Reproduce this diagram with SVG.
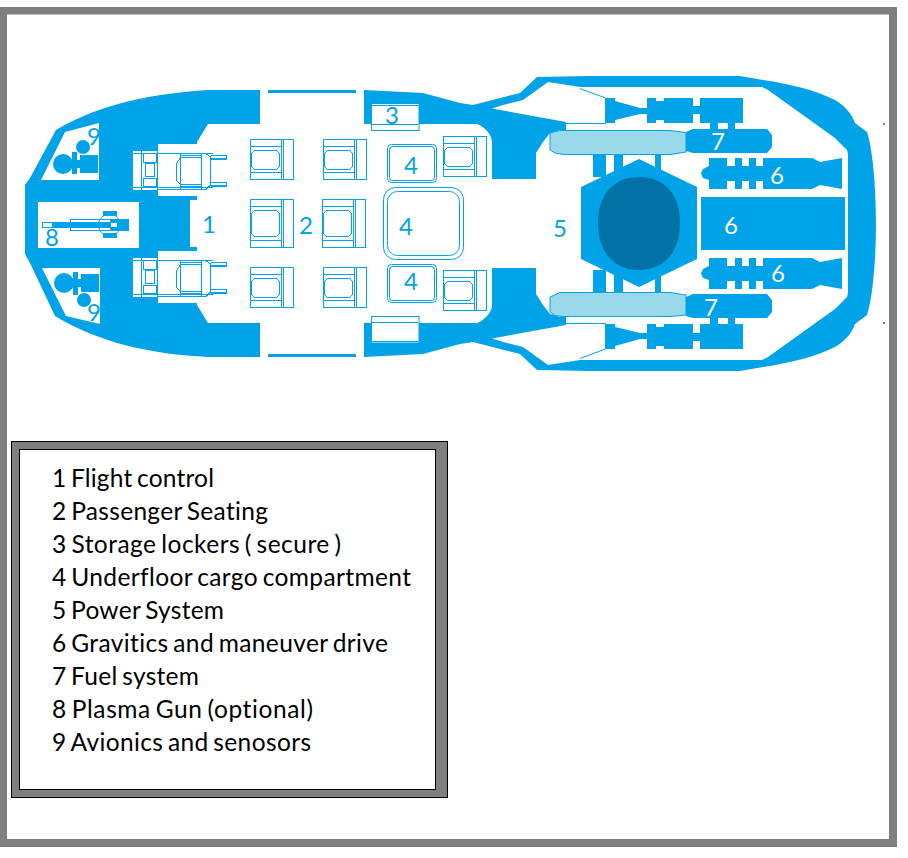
<svg xmlns="http://www.w3.org/2000/svg" xmlns:xlink="http://www.w3.org/1999/xlink" width="908" height="858" viewBox="0 0 908 858">
<style>
.b{fill:#00a2e8}
.l{fill:none;stroke:#00a2e8;stroke-width:1}
.w{fill:#fff;stroke:#00a2e8;stroke-width:1}
.t{font-family:"Lato","Liberation Sans",sans-serif;font-size:24px;fill:#00a2e8}
.tw{fill:#fff}
.k{font-family:"Lato","Liberation Sans",sans-serif;font-size:24.5px;fill:#000;font-variant-ligatures:none;word-spacing:-2px}
</style>
<defs>
<g id="seat" shape-rendering="crispEdges">
<rect class="l" x="0.5" y="0.5" width="43" height="40"/>
<path class="l" d="M31.500 .5V40.500M33.500 .5V40.500M.5 7.500H31.500M.5 33.500H31.500"/>
<path class="l" d="M4.500 11.500H26.500L29.500 14.500V27.500L26.500 30.500H4.500L1.500 27.500V14.500Z"/>
</g>
<g id="seatM" shape-rendering="crispEdges">
<rect class="l" x="0.5" y="0.5" width="43" height="48"/>
<path class="l" d="M31.500 .5V48.500M33.500 .5V48.500M.5 7.500H31.500M.5 41.500H31.500"/>
<path class="l" d="M4.500 11.500H26.500L29.500 14.500V34.500L26.500 37.500H4.500L1.500 34.500V14.500Z"/>
</g>
<g id="pilot" shape-rendering="crispEdges">
<rect x="133" y="150" width="77" height="40" fill="#fff"/>
<path class="l" d="M133 150.500H158M133 153.500H213M133 187.500H213M133 190.500H158M141.500 150V190M157.500 150V190"/>
<path class="l" d="M157.500 153.500H206L210.500 157V185L206 189.500H157.500"/>
<rect class="l" x="143.500" y="153.500" width="13" height="9"/>
<rect class="l" x="143.500" y="178.500" width="13" height="8"/>
<rect x="145.500" y="163.500" width="9" height="13" fill="none" stroke="#00a2e8" stroke-width="1.500"/>
<path class="l" d="M201.500 153.500V189.500M180.500 153.500V189.500M180.500 155.500H201M180.500 157.500H201M180.500 184.500H201M180.500 186.500H201M180.500 157.500L176.500 163.500V180.500L180.500 184.500"/>
<path class="l" d="M210.500 155.500H226.500V159.500H210.500M210.500 182.500H226.500V186.500H210.500"/>
<rect class="b" x="211" y="158" width="15" height="1.500"/>
<rect class="b" x="211" y="185" width="15" height="1.500"/>
</g>
<path id="engine" class="b" d="M606 98H615V101L640 108H647V98H656V101H664V98H693V106H700V98H743V123H735V130H728V123H718V130H710V123H700V114H693V123H664V120H656V123H647V114H640L615 120V123H606Z"/>
<path id="drive" class="b" d="M709 158H727V166H735V158H742V166H749V158H756V166H763V158H812L820 162L842 158V189L820 185L812 189H763V181H756V189H749V181H742V189H735V181H727V189H709V180L703 178L701 173.500L703 169L709 166Z"/>
<path id="aft" class="b" d="M364 90L423 93L460 103L473 105L520 93L537 77L590 76H740L763 80C790 84 815 90 835 100C845 106 852 114 855 123L867 132C873 150 876 190 876 224H848V154L847 150L835 138L768 90L762 87H580L548 82L523 100L503 105L492 108.500L566 122V130H560L550 133L543 142L536 153V179H492V142C492 135 485 127 477 124H364Z"/>
<g id="wedge"><path class="l" d="M580 88.500L605.500 98V123.500H566"/></g>
<g id="struts"><path class="b" d="M593 154H606V177H593ZM614 154H623V177H614ZM655 154H661V177H655Z"/></g>
</defs>

<path id="frame" fill="#7f7f7f" fill-rule="evenodd" d="M0 7H897V847H0ZM7 14.500V839H889V14.500Z"/>
<rect id="tick-top" x="883" y="123.500" width="2" height="1" fill="#000"/>
<rect id="tick-bottom" x="883" y="322.500" width="2" height="1" fill="#000"/>

<g id="hull-front">
<path class="b" fill-rule="evenodd" d="M260 90V124H208L197 142V144H158V150H133V190H158V196H197V200H190V247H197V251H158V257H133V297H158V303H197V305L208 323H260V357H208C150 354 100 343 55 316L30 263L25 254V185L30 178L56 130C100 104 150 94 208 90ZM65 132L99 123V180H41ZM38 202V248H139V202ZM42 268H100V324L66 316Z"/>
<path class="b" d="M268 90H356V93H268ZM268 354H356V357H268Z"/>
</g>
<g id="hull-aft">
<use xlink:href="#aft"/>
<use xlink:href="#aft" transform="matrix(1 0 0 -1 0 447)"/>
<use xlink:href="#wedge"/>
<use xlink:href="#wedge" transform="matrix(1 0 0 -1 0 447)"/>
</g>
<g id="n5-reactor">
<use xlink:href="#struts"/>
<use xlink:href="#struts" transform="matrix(1 0 0 -1 0 447)"/>
<path class="b" d="M639 159L697 187V259L639 287L581 259V187Z"/>
<path fill="#0072a8" d="M639 177C665 177 680 195 680 223C680 251 665 270 639 270C613 270 598 251 598 223C598 195 613 177 639 177Z"/>
</g>
<g id="n7-fuel">
<path fill="#99d9ea" stroke="#00a2e8" d="M560 130.500H670L686 132.500V152L670 154.500H563L555 153L550 150V133Z"/>
<path fill="#99d9ea" stroke="#00a2e8" d="M560 292.500H670L686 295V315L670 316.500H563L555 315.500L550 312V297Z"/>
<path class="b" d="M693 129H767L772 135V147L767 153H693L686 151V132ZM693 294H767L772 300V312L767 318H693L686 316V297Z"/>
</g>
<g id="n6-drive">
<use xlink:href="#engine"/>
<use xlink:href="#engine" transform="matrix(1 0 0 -1 0 447)"/>
<use xlink:href="#drive"/>
<use xlink:href="#drive" transform="translate(0 100)"/>
<rect class="b" x="701" y="197" width="144" height="53"/>
</g>
<g id="n9-avionics" class="b">
<circle cx="63" cy="164" r="10"/><circle cx="83" cy="147" r="7"/>
<path d="M63 160H98V168H63ZM80 155H98V173H80ZM72 152H77V174H72Z"/>
<circle cx="64" cy="283" r="10"/><circle cx="84" cy="300" r="7"/>
<path d="M64 279H99V287H64ZM81 274H99V292H81ZM73 272H78V295H73Z"/>
</g>
<g id="n8-gun">
<rect class="w" x="42.500" y="222.500" width="10" height="5"/>
<rect class="b" x="52" y="222" width="18" height="6"/>
<rect class="w" x="70.500" y="219.500" width="40" height="11"/>
<rect class="b" x="71" y="222" width="39" height="6"/>
<circle class="l" cx="109.500" cy="225" r="11"/>
<path class="b" d="M110 219H129V231H110ZM103 211H117V216H103ZM103 233H117V238H103Z"/>
<rect x="111" y="223" width="6" height="4" fill="#fff"/>
</g>
<g id="n1-cockpit">
<use xlink:href="#pilot"/>
<use xlink:href="#pilot" y="107"/>
</g>
<g id="n2-seating">
<use xlink:href="#seat" x="250" y="139"/>
<use xlink:href="#seatM" x="250" y="199"/>
<use xlink:href="#seat" x="250" y="267"/>
<use xlink:href="#seat" x="323" y="139"/>
<use xlink:href="#seatM" x="322" y="199"/>
<use xlink:href="#seat" x="323" y="267"/>
<use xlink:href="#seat" x="443" y="136"/>
<use xlink:href="#seat" x="443" y="270"/>
</g>
<g id="n3-lockers">
<rect class="w" x="371.500" y="103.500" width="47.500" height="27"/>
<path class="l" d="M372 105.500H418M372 124.500H418"/>
<rect class="w" x="371.500" y="316.500" width="47.500" height="26.500"/>
<path class="l" d="M372 322.500H418M372 341.500H418"/>
</g>
<g id="n4-cargo">
<rect class="l" x="387.500" y="144.500" width="49" height="38" rx="4"/>
<rect class="l" x="389.500" y="146.500" width="45" height="34" rx="3"/>
<rect class="l" x="383.500" y="187.500" width="80" height="72" rx="12"/>
<rect class="l" x="387.500" y="191.500" width="72" height="64" rx="10"/>
<rect class="l" x="387.500" y="264.500" width="49" height="38" rx="4"/>
<rect class="l" x="389.500" y="266.500" width="45" height="34" rx="3"/>
</g>
<g id="labels">
<text class="t" x="202" y="233">1</text>
<text class="t" x="299" y="234">2</text>
<text class="t" x="385" y="124">3</text>
<text class="t" x="404" y="174">4</text>
<text class="t" x="399" y="235">4</text>
<text class="t" x="404" y="290">4</text>
<text class="t" x="553" y="237">5</text>
<text class="t tw" x="770" y="184">6</text>
<text class="t tw" x="724" y="234">6</text>
<text class="t tw" x="771" y="282">6</text>
<text class="t tw" x="711" y="150">7</text>
<text class="t tw" x="704" y="316">7</text>
<text class="t" x="45" y="246">8</text>
<text class="t" x="87" y="145">9</text>
<text class="t" x="87" y="321">9</text>
</g>
<g id="legend">
<rect x="11.500" y="441.500" width="436" height="356" fill="#7f7f7f" stroke="#000"/>
<rect x="19.500" y="449.500" width="416" height="340" fill="#fff" stroke="#000"/>
<text class="k" x="52" y="487" textLength="162">1 Flight control</text>
<text class="k" x="52" y="520" textLength="216">2 Passenger Seating</text>
<text class="k" x="52" y="553" textLength="289">3 Storage lockers ( secure )</text>
<text class="k" x="52" y="586" textLength="359">4 Underfloor cargo compartment</text>
<text class="k" x="52" y="619" textLength="172">5 Power System</text>
<text class="k" x="52" y="652" textLength="336">6 Gravitics and maneuver drive</text>
<text class="k" x="52" y="685" textLength="147">7 Fuel system</text>
<text class="k" x="52" y="718" textLength="261">8 Plasma Gun (optional)</text>
<text class="k" x="52" y="751" textLength="259">9 Avionics and senosors</text>
</g>
</svg>
